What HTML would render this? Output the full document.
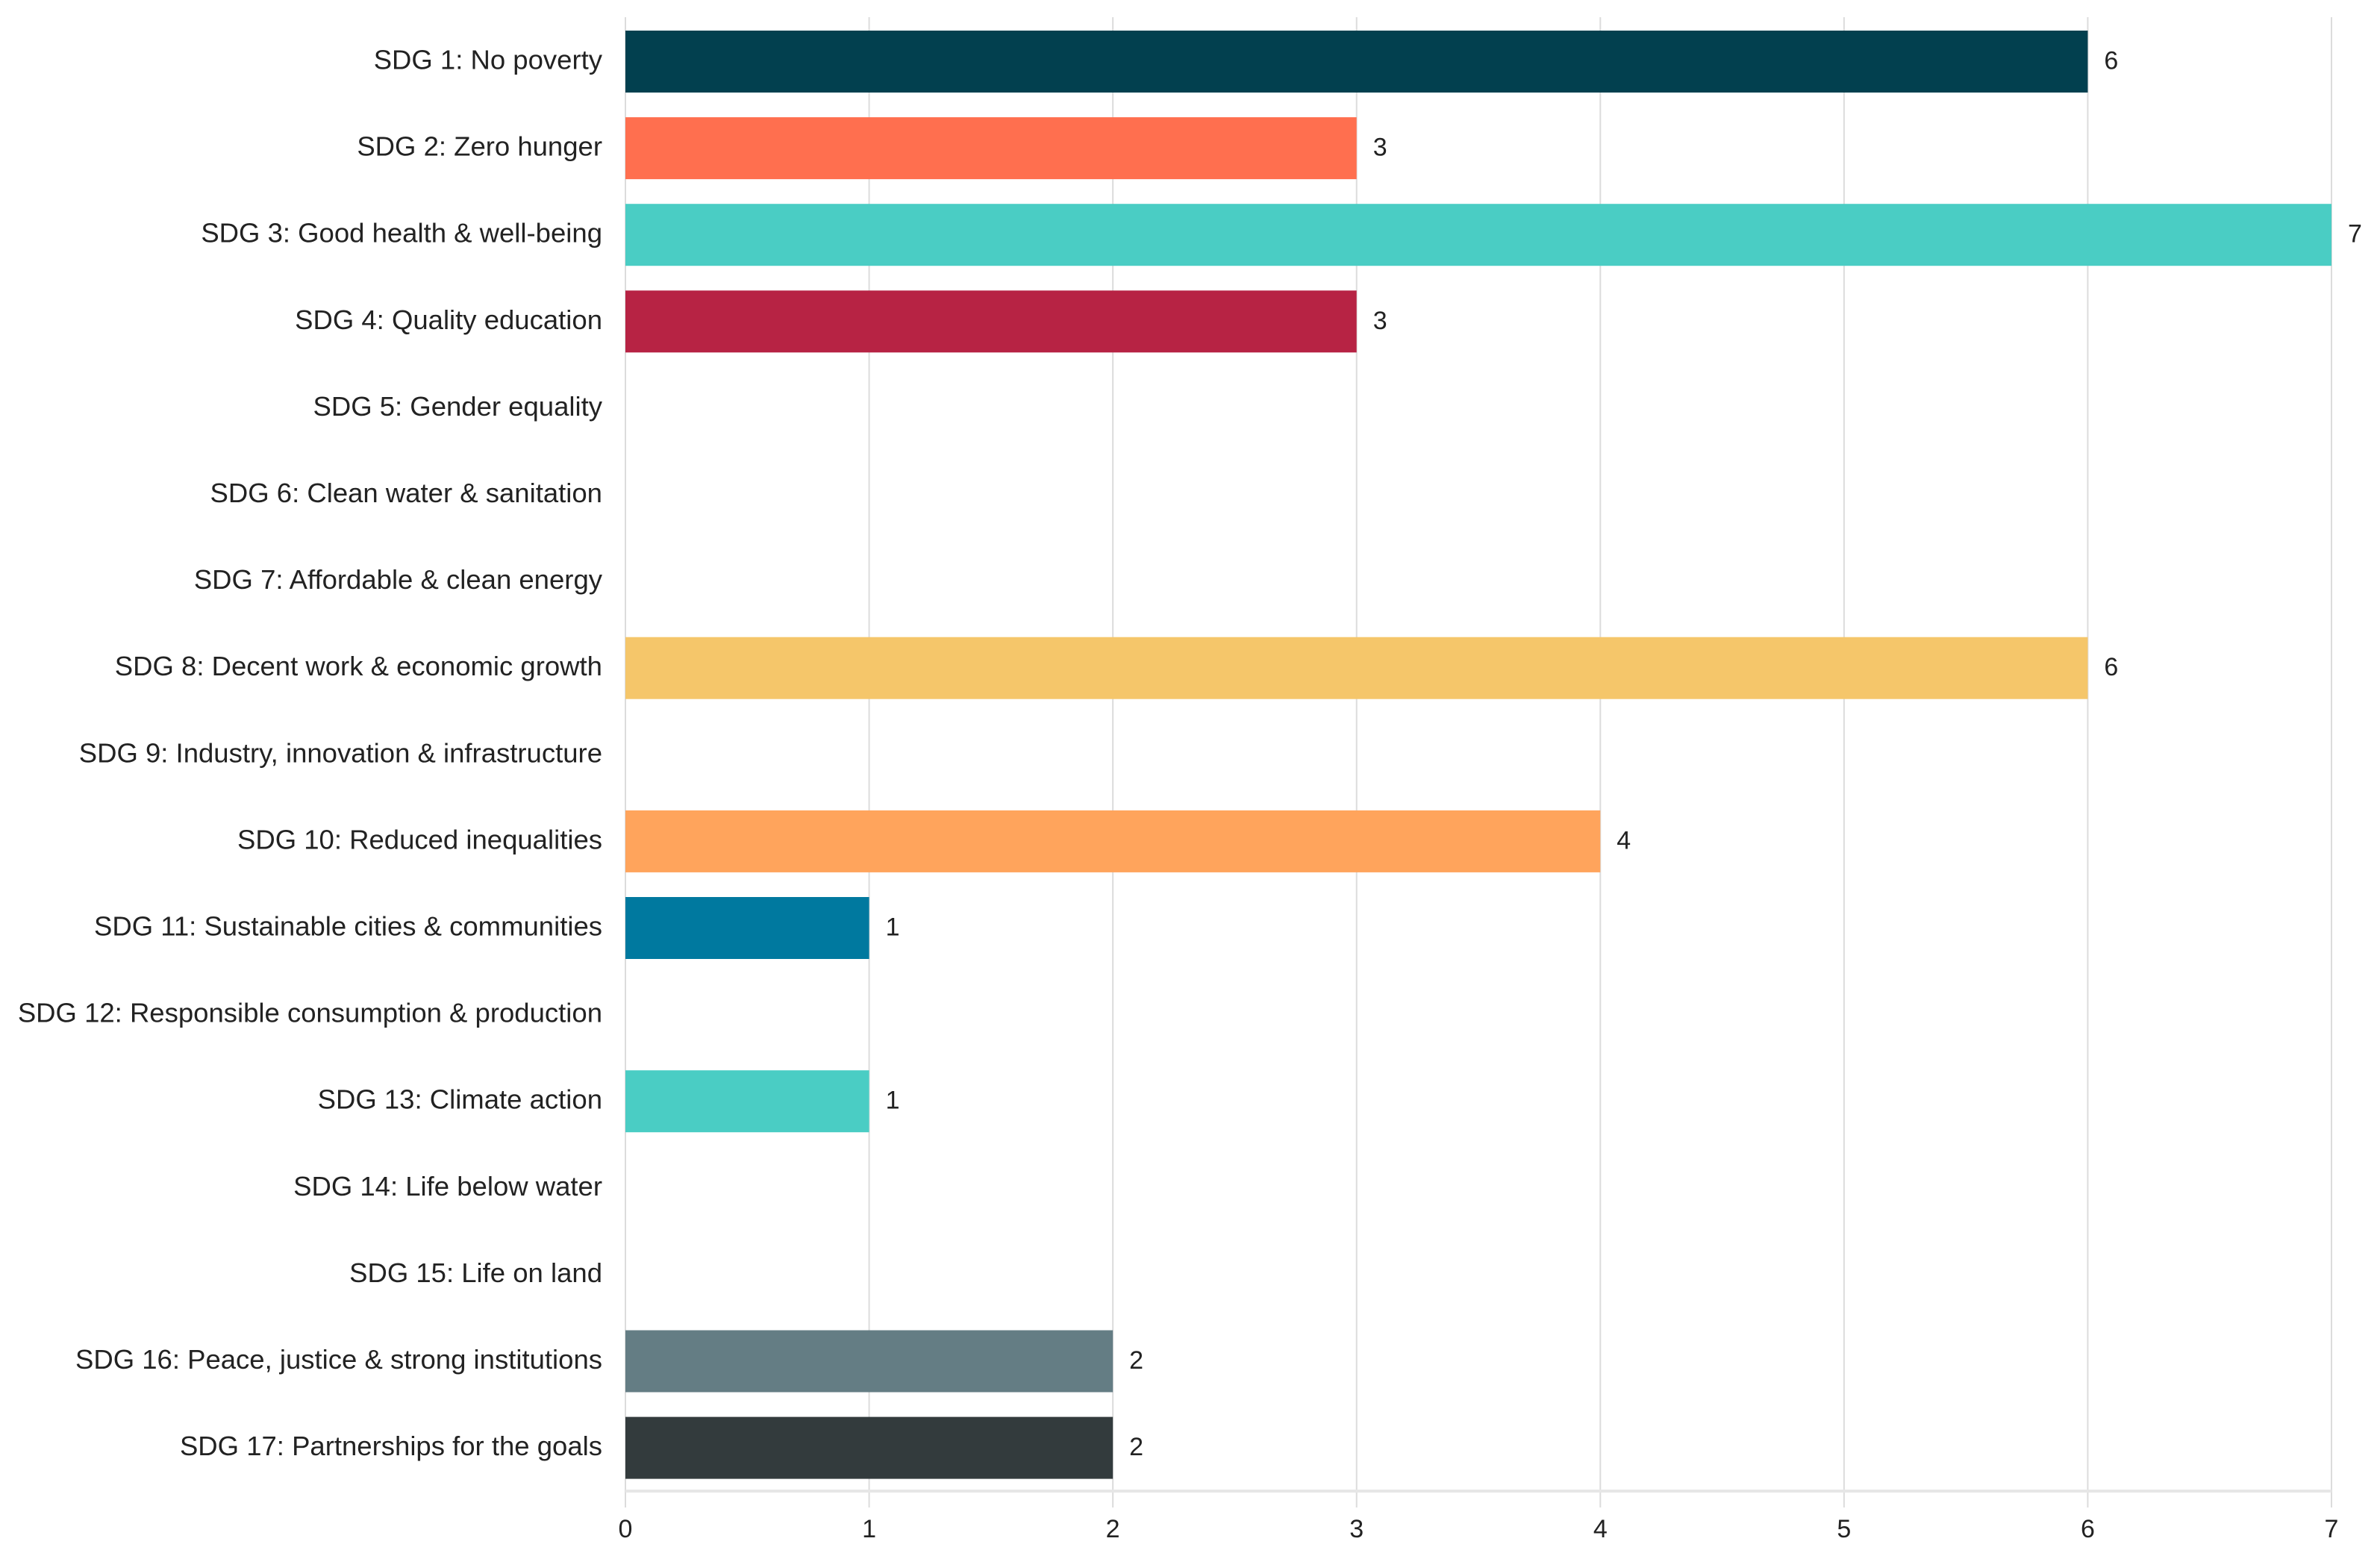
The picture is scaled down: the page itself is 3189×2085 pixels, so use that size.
<!DOCTYPE html>
<html><head><meta charset="utf-8"><style>
html,body{margin:0;padding:0;background:#fff;}
svg{display:block;font-family:"Liberation Sans",sans-serif;}
</style></head><body>
<svg id="chart" width="3189" height="2085" viewBox="0 0 3189 2085" xmlns="http://www.w3.org/2000/svg">
<g id="grid"></g>
<g id="bars"></g>
<g id="ylabels"></g>
<g id="xlabels"></g>
</svg>
<script>
const categories = ["SDG 1: No poverty","SDG 2: Zero hunger","SDG 3: Good health & well-being","SDG 4: Quality education","SDG 5: Gender equality","SDG 6: Clean water & sanitation","SDG 7: Affordable & clean energy","SDG 8: Decent work & economic growth","SDG 9: Industry, innovation & infrastructure","SDG 10: Reduced inequalities","SDG 11: Sustainable cities & communities","SDG 12: Responsible consumption & production","SDG 13: Climate action","SDG 14: Life below water","SDG 15: Life on land","SDG 16: Peace, justice & strong institutions","SDG 17: Partnerships for the goals"];
const values = [6,3,7,3,0,0,0,6,0,4,1,0,1,0,0,2,2];
const colors = ["#02404f","#ff6f4f","#4acdc4","#b72344","#888","#888","#888","#f5c66a","#888","#ffa45c","#00799f","#888","#4acdc4","#888","#888","#647d84","#333b3d"];
const ticks = [0,1,2,3,4,5,6,7];

const X0=838, X1=3124, XMAX=7, TOP=41, PITCH=116.1, BH=83, BASE=1998;
const sx = v => X0 + (v/XMAX)*(X1-X0);
const sy = i => TOP + i*PITCH;
const NS="http://www.w3.org/2000/svg";
function mk(tag, attrs, parent){const e=document.createElementNS(NS,tag);for(const k in attrs)e.setAttribute(k,attrs[k]);parent.appendChild(e);return e;}
const grid=document.getElementById('grid'), bars=document.getElementById('bars'), yl=document.getElementById('ylabels'), xl=document.getElementById('xlabels');

ticks.forEach(t=>{
  const l=mk('line',{x1:sx(t),x2:sx(t),y1:23,y2:2020,stroke:'#dcdcdc','stroke-width':2},grid);
  
  
  const tx=mk('text',{x:sx(t),y:2060,'text-anchor':'middle','font-size':34,fill:'#222'},xl);
  tx.textContent=t;
  
  
});
const bl=mk('line',{x1:X0,x2:X1,y1:BASE,y2:BASE,stroke:'#e6e6e6','stroke-width':4},grid);



categories.forEach((c,i)=>{
  const cy=sy(i)+BH/2;
  const t=mk('text',{x:807,y:cy+10,'text-anchor':'end','font-size':36.5,fill:'#222'},yl);
  t.textContent=c;
  
  
  if(values[i]>0){
    const r=mk('rect',{x:X0,y:sy(i),width:sx(values[i])-X0,height:BH,fill:colors[i]},bars);
    
    
    const v=mk('text',{x:sx(values[i])+22,y:cy+10,'font-size':34,fill:'#222'},bars);
    v.textContent=values[i];
    
    
  }
});
</script>
</body></html>
